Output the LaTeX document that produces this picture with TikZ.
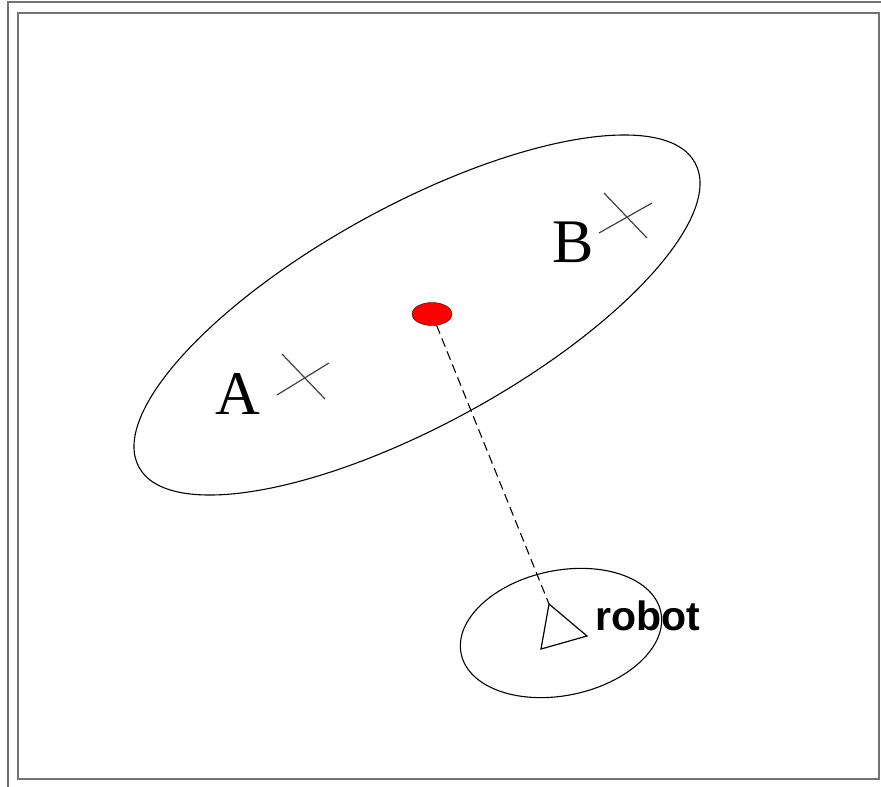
\documentclass[tikz,border=0pt]{standalone}
\usepackage{fontspec}
\setmainfont{Liberation Serif}
\setsansfont{Liberation Sans}
\usetikzlibrary{shapes.geometric, positioning, calc}

\begin{document}
\begin{tikzpicture}[
    x=1pt, y=-1pt,
    frame/.style={draw=black!55, line width=1.2pt},
    cov/.style={draw, ellipse, inner sep=0pt, line width=1.1pt},
    crossline/.style={draw=black!75, line width=1.2pt},
    lbl/.style={anchor=base west, inner sep=0pt, font=\fontsize{62}{62}\selectfont}
]
    \useasboundingbox (0,0) rectangle (881,787);

    % Page frame
    \draw[frame] (8,787) -- (8,2) -- (881,2);
    \draw[frame, line width=2.2pt] (18,13) rectangle (879,779);

    % Landmark uncertainty
    \node[cov, rotate=28.7, minimum width=634pt, minimum height=219pt] (big) at (417,315) {};

    % Landmarks A and B
    \draw[crossline] (277,395) -- (329,363);
    \draw[crossline] (282,354) -- (325,399);
    \node[lbl] (la) at (215,414) {A};
    \draw[crossline] (599,233) -- (652,203);
    \draw[crossline] (604,193) -- (647,238);
    \node[lbl] (lb) at (552,262) {B};

    % Robot and its uncertainty
    \node[cov, rotate=11.8, minimum width=204pt, minimum height=125pt] (small) at (561,633) {};
    \coordinate (tip) at (549,604);
    \coordinate (left) at (541,649);
    \coordinate (right) at (587,636);
    \draw[line width=1.2pt] (tip) -- (right) -- (left) -- cycle;
    \node[anchor=base west, inner sep=0pt, font=\sffamily\bfseries\fontsize{41}{41}\selectfont] (rob) at (595,630) {robot};

    % Estimate
    \node[draw=black!70!red, fill=red, ellipse, minimum width=40pt, minimum height=23pt, inner sep=0pt] (est) at (432,314) {};
    \draw[dashed, line width=1.1pt, dash pattern=on 9pt off 5pt] (est) -- (tip);
\end{tikzpicture}
\end{document}
